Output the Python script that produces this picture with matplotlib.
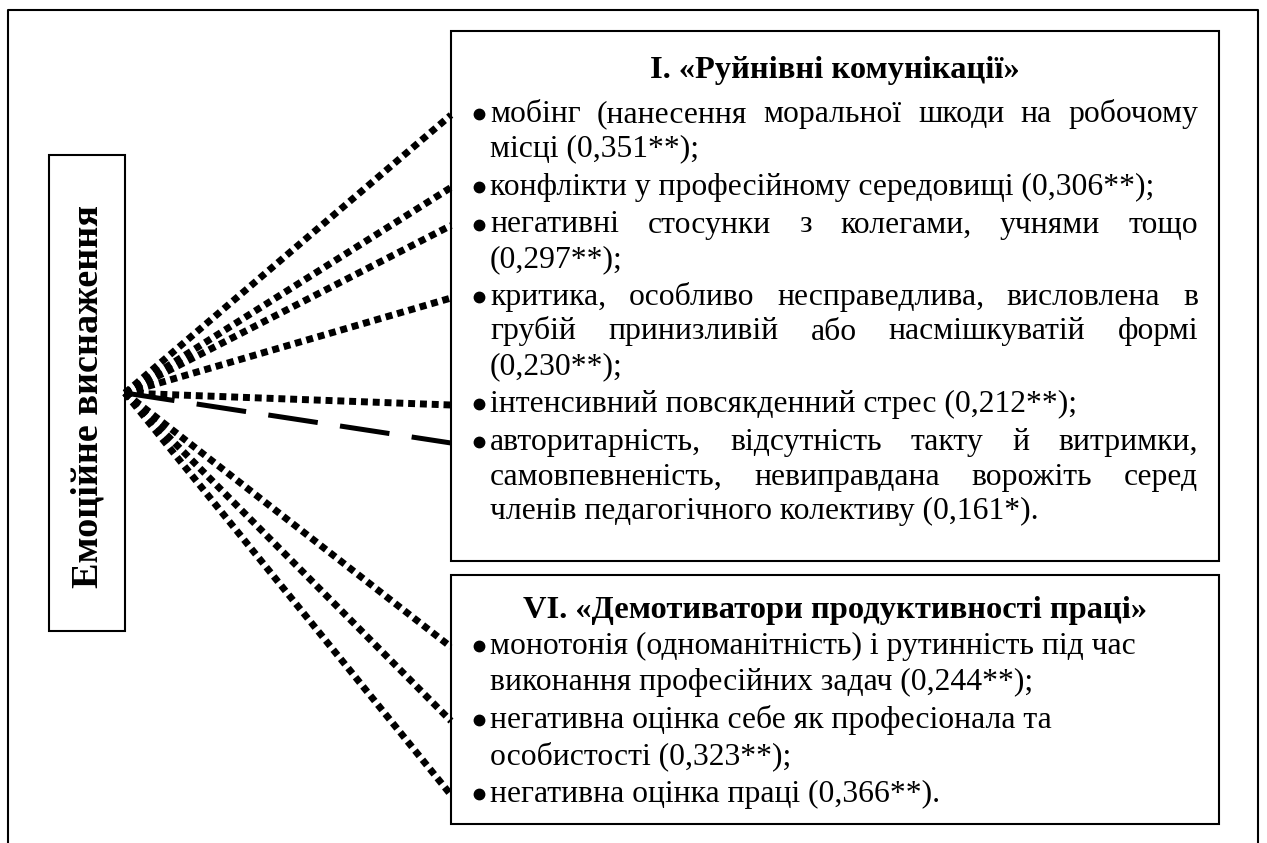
import matplotlib
matplotlib.use("Agg")
import matplotlib.pyplot as plt
from matplotlib.patches import Rectangle

plt.rcParams['font.family'] = ['Liberation Serif', 'DejaVu Serif']

# --- data ---
central_label = "Емоційне виснаження"

group1_title = "I. «Руйнівні комунікації»"
group1_items = [
    ["мобінг (нанесення моральної шкоди на робочому", "місці ({r});"],
    ["конфлікти у професійному середовищі ({r});"],
    ["негативні стосунки з колегами, учнями тощо", "({r});"],
    ["критика, особливо несправедлива, висловлена в",
     "грубій принизливій або насмішкуватій формі", "({r});"],
    ["інтенсивний повсякденний стрес ({r});"],
    ["авторитарність, відсутність такту й витримки,",
     "самовпевненість, невиправдана ворожіть серед",
     "членів педагогічного колективу ({r})."],
]
group1_r = [0.351, 0.306, 0.297, 0.230, 0.212, 0.161]
group1_sig = ["**", "**", "**", "**", "**", "*"]

group2_title = "VI. «Демотиватори продуктивності праці»"
group2_items = [
    ["монотонія (одноманітність) і рутинність під час",
     "виконання професійних задач ({r});"],
    ["негативна оцінка себе як професіонала та", "особистості ({r});"],
    ["негативна оцінка праці ({r})."],
]
group2_r = [0.244, 0.323, 0.366]
group2_sig = ["**", "**", "**"]

# --- figure in pixel coordinates ---
W, H = 1267, 843
fig = plt.figure(figsize=(W / 100, H / 100), dpi=100)
ax = fig.add_axes([0, 0, 1, 1])
ax.set_xlim(0, W)
ax.set_ylim(H, 0)
ax.axis('off')
renderer = fig.canvas.get_renderer()

BODY = 22.8
TITLE = 23.4
lw_box = 1.5

# outer frame (open at the bottom)
ax.plot([8, 8, 1258, 1258], [H, 10, 10, H], color='black', lw=lw_box)

# central box
cx0, cy0, cx1, cy1 = 49, 155, 125, 631
ax.add_patch(Rectangle((cx0, cy0), cx1 - cx0, cy1 - cy0, fill=False, lw=lw_box))
ax.text((cx0 + cx1) / 2 + 1, (cy0 + cy1) / 2 + 4, central_label, rotation=90,
        ha='center', va='center', fontsize=27.5, fontweight='bold')
origin = (cx1, 393)


def fmt(r, s):
    return f"{r:.3f}".replace('.', ',') + s


def word_width(word, size):
    t = ax.text(0, 0, word, fontsize=size)
    w = t.get_window_extent(renderer).width
    t.remove()
    return w


def draw_group(box, title, title_base, items, rs, sigs, first_base, step, gap, justify):
    x0, y0, x1, y1 = box
    ax.add_patch(Rectangle((x0, y0), x1 - x0, y1 - y0, fill=False, lw=lw_box, zorder=3))
    ax.text((x0 + x1) / 2, title_base, title, ha='center', va='baseline',
            fontsize=TITLE, fontweight='bold')
    left, right = x0 + 39, x1 - 21
    y = first_base
    anchors = []
    for lines, r, s in zip(items, rs, sigs):
        lines = [ln.format(r=fmt(r, s)) for ln in lines]
        anchors.append(y - 7)
        ax.plot(x0 + 28, y - 8, 'o', ms=7.5, color='black')
        for i, ln in enumerate(lines):
            last = i == len(lines) - 1
            words = ln.split()
            if justify and not last and len(words) > 1:
                widths = [word_width(w, BODY) for w in words]
                space = (right - left - sum(widths)) / (len(words) - 1)
                x = left
                for w, wd in zip(words, widths):
                    ax.text(x, y, w, fontsize=BODY, va='baseline', ha='left')
                    x += wd + space
            else:
                ax.text(left, y, ln, fontsize=BODY, va='baseline', ha='left')
            if not last:
                y += step
        y += step + gap
    return anchors


a1 = draw_group((451, 31, 1219, 561), group1_title, 78, group1_items, group1_r,
                group1_sig, 122, 34.5, 3.5, True)
a2 = draw_group((451, 575, 1219, 824), group2_title, 618, group2_items, group2_r,
                group2_sig, 654, 36, 2, False)

# connectors from the central box
styles = ['dot'] * 5 + ['dash'] + ['dot'] * 3
for ay, st in zip(a1 + a2, styles):
    if st == 'dot':
        ax.plot([origin[0], 451], [origin[1], ay], color='black', lw=5,
                linestyle=(0, (1, 0.7)), dash_capstyle='butt', zorder=2)
    else:
        ax.plot([origin[0], 451], [origin[1], ay], color='black', lw=3.6,
                linestyle=(0, (10, 4.5)), dash_capstyle='butt', zorder=2)

fig.savefig("out.png", dpi=100)
